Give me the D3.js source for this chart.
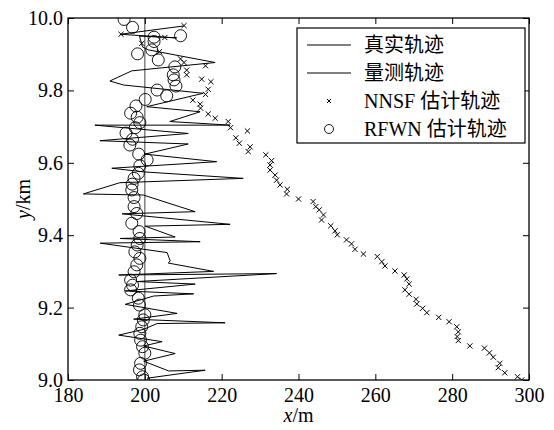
<!DOCTYPE html>
<html><head><meta charset="utf-8">
<script src="https://cdn.jsdelivr.net/npm/d3@7"></script>
<style>
html,body{margin:0;padding:0;background:#fff;}
svg{display:block;}
text{font-family:"Liberation Serif","Times New Roman","Noto Sans CJK SC",serif;fill:#000;}
</style></head>
<body>
<svg id="chart" width="554" height="430"></svg>
<script>
// ---- data ----
const xTicks = [180, 200, 220, 240, 260, 280, 300];
const yTicks = [9.0, 9.2, 9.4, 9.6, 9.8, 10.0];
const legendLabels = ["真实轨迹", "量测轨迹", "NNSF 估计轨迹", "RFWN 估计轨迹"];

// true trajectory
const trueX = [200, 200];
const trueY = [9.0, 10.0];

// measured trajectory
const measX = [200.6, 215.7, 206.2, 199.7, 207.9, 199.7, 204.5, 193.2, 199.7, 203.2, 220.9, 197.1, 208.4, 194.9, 202.3, 212.7, 194.9, 213.1, 198.0, 234.3, 193.2, 217.9, 206.1, 206.6, 205.8, 188.4, 214.4, 193.6, 207.9, 200.1, 222.2, 194.1, 213.1, 199.6, 184.0, 193.5, 225.6, 199.6, 191.4, 218.7, 200.0, 211.3, 188.3, 211.3, 187.0, 222.2, 206.5, 214.4, 200.5, 215.2, 194.4, 190.9, 196.6, 218.3, 200.9, 199.4, 198.6, 208.3, 193.6, 210.1];
const measY = [9.005, 9.027, 9.025, 9.052, 9.073, 9.094, 9.106, 9.124, 9.140, 9.156, 9.158, 9.168, 9.184, 9.209, 9.232, 9.238, 9.246, 9.265, 9.272, 9.294, 9.290, 9.300, 9.323, 9.329, 9.352, 9.378, 9.382, 9.391, 9.395, 9.425, 9.430, 9.459, 9.465, 9.511, 9.514, 9.545, 9.557, 9.575, 9.585, 9.603, 9.624, 9.652, 9.661, 9.681, 9.704, 9.704, 9.714, 9.741, 9.755, 9.792, 9.815, 9.826, 9.854, 9.877, 9.912, 9.920, 9.950, 9.945, 9.955, 9.978];

// NNSF estimate
const nnsfX = [298.1, 297.0, 293.7, 292.0, 292.4, 290.7, 289.7, 288.4, 284.6, 281.6, 281.3, 281.6, 281.2, 279.2, 276.5, 273.4, 272.3, 270.8, 270.6, 268.8, 267.7, 268.8, 268.2, 267.5, 265.1, 262.5, 261.7, 260.5, 256.9, 254.7, 253.8, 252.5, 250.1, 249.5, 248.4, 246.0, 246.5, 245.4, 244.5, 243.8, 240.0, 236.9, 237.1, 235.2, 234.3, 233.9, 232.6, 232.6, 233.0, 231.5, 226.9, 227.4, 224.6, 223.7, 226.7, 222.3, 221.7, 218.3, 216.5, 214.5, 214.4, 212.5, 215.8, 216.5, 217.2, 214.8, 210.9, 210.9, 215.8, 210.2, 209.3, 203.8, 205.2, 199.2, 193.8, 210.2];
const nnsfY = [9.000, 9.009, 9.020, 9.034, 9.046, 9.063, 9.075, 9.088, 9.094, 9.109, 9.120, 9.133, 9.147, 9.161, 9.173, 9.186, 9.198, 9.210, 9.223, 9.237, 9.249, 9.265, 9.279, 9.290, 9.301, 9.315, 9.327, 9.341, 9.348, 9.361, 9.376, 9.387, 9.401, 9.412, 9.426, 9.442, 9.456, 9.470, 9.479, 9.493, 9.500, 9.514, 9.527, 9.539, 9.552, 9.566, 9.580, 9.594, 9.606, 9.622, 9.631, 9.644, 9.654, 9.669, 9.688, 9.697, 9.714, 9.723, 9.735, 9.751, 9.762, 9.773, 9.789, 9.803, 9.824, 9.831, 9.843, 9.856, 9.868, 9.877, 9.887, 9.907, 9.946, 9.930, 9.955, 9.979];

// RFWN estimate
const rfwnX = [199.7, 199.4, 198.6, 198.9, 200.0, 199.4, 198.9, 198.7, 199.2, 199.6, 200.0, 198.6, 198.3, 196.3, 196.8, 196.3, 197.2, 197.9, 198.7, 197.4, 198.0, 198.7, 198.5, 196.6, 197.9, 197.2, 197.2, 196.6, 196.7, 197.2, 198.3, 198.7, 200.6, 198.4, 196.1, 196.8, 195.1, 197.5, 198.7, 198.0, 196.3, 197.7, 200.1, 205.7, 203.2, 208.1, 207.6, 207.4, 207.8, 203.5, 198.1, 201.8, 202.4, 209.3, 202.4, 196.8, 194.6];
const rfwnY = [9.000, 9.009, 9.028, 9.046, 9.074, 9.092, 9.110, 9.129, 9.147, 9.166, 9.180, 9.207, 9.226, 9.249, 9.262, 9.276, 9.299, 9.318, 9.336, 9.354, 9.373, 9.391, 9.410, 9.433, 9.460, 9.479, 9.504, 9.525, 9.541, 9.557, 9.571, 9.592, 9.608, 9.624, 9.649, 9.665, 9.682, 9.697, 9.711, 9.726, 9.737, 9.757, 9.775, 9.785, 9.801, 9.812, 9.829, 9.843, 9.865, 9.884, 9.901, 9.912, 9.935, 9.951, 9.947, 9.974, 9.996];

// ---- drawing ----
const svg = d3.select("#chart");
const L = 68, R = 529, T = 18, B = 380;
const x = d3.scaleLinear().domain([180, 300]).range([L, R]);
const y = d3.scaleLinear().domain([9.0, 10.0]).range([B, T]);
const FS = 20;

const plot = svg.append("g");
plot.append("clipPath").attr("id", "clip").append("rect")
  .attr("x", L).attr("y", T).attr("width", R - L).attr("height", B - T);
const inner = plot.append("g").attr("clip-path", "url(#clip)");

const line = d3.line().x(d => x(d[0])).y(d => y(d[1]));

// true trajectory
inner.append("path")
  .datum(trueX.map((v, i) => [v, trueY[i]]))
  .attr("d", line).attr("fill", "none").attr("stroke", "#555").attr("stroke-width", 1.1);

// measured
inner.append("path")
  .datum(measX.map((v, i) => [v, measY[i]]))
  .attr("d", line).attr("fill", "none").attr("stroke", "#000").attr("stroke-width", 1);

// RFWN circles
inner.selectAll("circle.rf").data(rfwnX.map((v, i) => [v, rfwnY[i]]))
  .enter().append("circle").attr("class", "rf")
  .attr("cx", d => x(d[0])).attr("cy", d => y(d[1])).attr("r", 6)
  .attr("fill", "none").attr("stroke", "#000").attr("stroke-width", 0.9);

// NNSF crosses
const cs = 2.6;
function crossPath(cx, cy, s) {
  return `M${cx - s},${cy - s}L${cx + s},${cy + s}M${cx - s},${cy + s}L${cx + s},${cy - s}`;
}
inner.selectAll("path.nn").data(nnsfX.map((v, i) => [v, nnsfY[i]]))
  .enter().append("path").attr("class", "nn")
  .attr("d", d => crossPath(x(d[0]), y(d[1]), cs))
  .attr("fill", "none").attr("stroke", "#000").attr("stroke-width", 1);

// axes with inward ticks
const fmtY = d3.format(".1f");
const axB = svg.append("g").attr("transform", `translate(0,${B})`)
  .call(d3.axisBottom(x).tickValues(xTicks).tickSizeInner(-6).tickSizeOuter(0).tickPadding(8));
const axT = svg.append("g").attr("transform", `translate(0,${T})`)
  .call(d3.axisTop(x).tickValues(xTicks).tickSizeInner(-6).tickSizeOuter(0).tickFormat(""));
const axL = svg.append("g").attr("transform", `translate(${L},0)`)
  .call(d3.axisLeft(y).tickValues(yTicks).tickSizeInner(-6).tickSizeOuter(0).tickPadding(5).tickFormat(fmtY));
const axR = svg.append("g").attr("transform", `translate(${R},0)`)
  .call(d3.axisRight(y).tickValues(yTicks).tickSizeInner(-6).tickSizeOuter(0).tickFormat(""));
[axB, axT, axL, axR].forEach(a => {
  a.select(".domain").remove();
  a.selectAll(".tick line").attr("stroke", "#000").attr("stroke-width", 1);
  a.selectAll("text").attr("font-size", FS).attr("font-family", "Liberation Serif, serif").attr("fill", "#000");
});

// frame
svg.append("rect").attr("x", L).attr("y", T).attr("width", R - L).attr("height", B - T)
  .attr("fill", "none").attr("stroke", "#000").attr("stroke-width", 1.3);

// axis titles
const xt = svg.append("text").attr("x", (L + R) / 2).attr("y", 422)
  .attr("text-anchor", "middle").attr("font-size", FS);
xt.append("tspan").attr("font-style", "italic").text("x");
xt.append("tspan").text("/m");

const yt = svg.append("text").attr("transform", `translate(30,${(T + B) / 2}) rotate(-90)`)
  .attr("text-anchor", "middle").attr("font-size", FS);
yt.append("tspan").attr("font-style", "italic").text("y");
yt.append("tspan").text("/km");

// legend
const lg = svg.append("g");
lg.append("rect").attr("x", 297).attr("y", 28).attr("width", 228).attr("height", 115)
  .attr("fill", "#fff").attr("stroke", "#000").attr("stroke-width", 1.2);
const rows = [45, 73, 101, 129];
const sx0 = 307, sx1 = 351, sxm = 329, tx = 364;
lg.append("line").attr("x1", sx0).attr("x2", sx1).attr("y1", rows[0]).attr("y2", rows[0])
  .attr("stroke", "#000").attr("stroke-width", 1);
lg.append("line").attr("x1", sx0).attr("x2", sx1).attr("y1", rows[1]).attr("y2", rows[1])
  .attr("stroke", "#000").attr("stroke-width", 1);
lg.append("path").attr("d", crossPath(sxm, rows[2], 2)).attr("stroke", "#000").attr("stroke-width", 1);
lg.append("circle").attr("cx", sxm).attr("cy", rows[3]).attr("r", 4.5)
  .attr("fill", "none").attr("stroke", "#000").attr("stroke-width", 0.9);
legendLabels.forEach((t, i) => {
  lg.append("text").attr("x", tx).attr("y", rows[i]).attr("dy", "0.35em")
    .attr("font-size", FS).text(t);
});
</script>
</body></html>
